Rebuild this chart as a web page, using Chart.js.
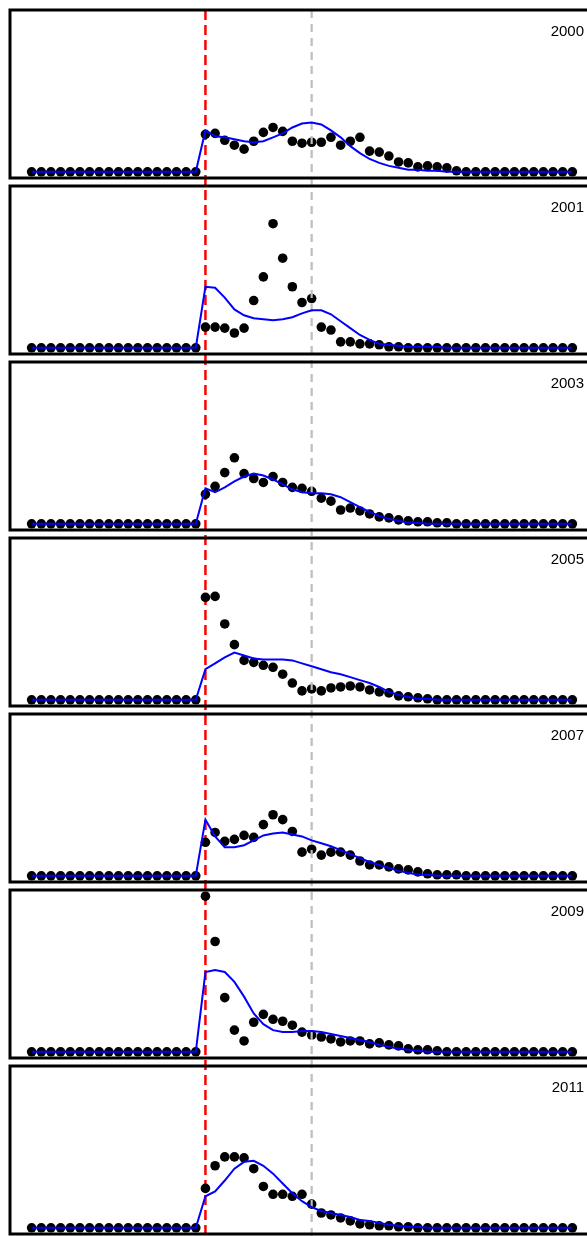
<!DOCTYPE html>
<html>
<head>
<meta charset="utf-8">
<script src="https://cdn.jsdelivr.net/npm/chart.js@4.4.1/dist/chart.umd.min.js"></script>
<style>
  html, body { margin: 0; padding: 0; background: #fff; overflow: hidden; }
  #panels { position: relative; width: 587px; height: 1236px; overflow: hidden; }
  #panels canvas { position: absolute; left: 0; }
</style>
</head>
<body>
<div id="panels"></div>
<script>
// Weekly share per season: observed values (dots) and smoothed fit (blue line)
const weeks = [1, 2, 3, 4, 5, 6, 7, 8, 9, 10, 11, 12, 13, 14, 15, 16, 17, 18, 19, 20,
  21, 22, 23, 24, 25, 26, 27, 28, 29, 30, 31, 32, 33, 34, 35, 36, 37, 38, 39, 40,
  41, 42, 43, 44, 45, 46, 47, 48, 49, 50, 51, 52, 53, 54, 55, 56, 57];

const seasons = ['2000', '2001', '2003', '2005', '2007', '2009', '2011'];

const dots2000 = [0, 0, 0, 0, 0, 0, 0, 0, 0, 0, 0, 0, 0, 0, 0, 0, 0, 0,
  3.8, 3.9, 3.2, 2.7, 2.3, 3.1, 4.0, 4.5, 4.1, 3.1, 2.9, 3.0, 3.0, 3.5, 2.7, 3.1, 3.5, 2.1, 2.0, 1.6, 1.0, 0.9, 0.5, 0.6, 0.5, 0.4, 0.1,
  0, 0, 0, 0, 0, 0, 0, 0, 0, 0, 0, 0];
const fit2000 = [0, 0, 0, 0, 0, 0, 0, 0, 0, 0, 0, 0, 0, 0, 0, 0, 0, 0,
  4.2, 3.6, 3.5, 3.3, 3.1, 3.0, 3.1, 3.5, 3.9, 4.5, 4.9, 5.0, 4.8, 4.2, 3.5, 2.6, 1.9, 1.3, 0.9, 0.6, 0.4, 0.2, 0.2, 0.1, 0.1,
  0, 0, 0, 0, 0, 0, 0, 0, 0, 0, 0, 0, 0, 0];

const dots2001 = [0, 0, 0, 0, 0, 0, 0, 0, 0, 0, 0, 0, 0, 0, 0, 0, 0, 0,
  2.1, 2.1, 2.0, 1.5, 2.0, 4.8, 7.2, 12.6, 9.1, 6.2, 4.6, 5.0, 2.1, 1.8, 0.6, 0.6, 0.4, 0.4, 0.3, 0.1, 0.1,
  0, 0, 0, 0, 0, 0, 0, 0, 0, 0, 0, 0, 0, 0, 0, 0, 0, 0];
const fit2001 = [0, 0, 0, 0, 0, 0, 0, 0, 0, 0, 0, 0, 0, 0, 0, 0, 0, 0,
  6.2, 6.1, 5.1, 3.9, 3.3, 3.0, 2.9, 2.8, 2.9, 3.1, 3.5, 3.8, 3.8, 3.4, 2.7, 2.0, 1.3, 0.8, 0.4, 0.3, 0.2, 0.1, 0.1, 0.1, 0.1,
  0, 0, 0, 0, 0, 0, 0, 0, 0, 0, 0, 0, 0, 0];

const dots2003 = [0, 0, 0, 0, 0, 0, 0, 0, 0, 0, 0, 0, 0, 0, 0, 0, 0, 0,
  3.0, 3.8, 5.2, 6.7, 5.1, 4.6, 4.2, 4.8, 4.2, 3.7, 3.6, 3.3, 2.6, 2.3, 1.4, 1.6, 1.3, 1.0, 0.7, 0.6, 0.4, 0.3, 0.2, 0.2, 0.1, 0.1,
  0, 0, 0, 0, 0, 0, 0, 0, 0, 0, 0, 0, 0];
const fit2003 = [0, 0, 0, 0, 0, 0, 0, 0, 0, 0, 0, 0, 0, 0, 0, 0, 0, 0,
  3.6, 3.2, 3.7, 4.3, 4.8, 5.1, 4.9, 4.5, 4.0, 3.5, 3.2, 3.1, 3.1, 3.0, 2.7, 2.2, 1.7, 1.2, 0.8, 0.5, 0.3, 0.1, 0.1,
  0, 0, 0, 0, 0, 0, 0, 0, 0, 0, 0, 0, 0, 0, 0, 0];

const dots2005 = [0, 0, 0, 0, 0, 0, 0, 0, 0, 0, 0, 0, 0, 0, 0, 0, 0, 0,
  10.4, 10.5, 7.7, 5.6, 4.0, 3.8, 3.5, 3.3, 2.6, 1.7, 0.9, 1.1, 0.9, 1.2, 1.3, 1.4, 1.3, 1.0, 0.8, 0.7, 0.4, 0.3, 0.2, 0.1,
  0, 0, 0, 0, 0, 0, 0, 0, 0, 0, 0, 0, 0, 0, 0];
const fit2005 = [0, 0, 0, 0, 0, 0, 0, 0, 0, 0, 0, 0, 0, 0, 0, 0, 0, 0,
  3.1, 3.7, 4.3, 4.8, 4.5, 4.2, 4.1, 4.1, 4.1, 4.0, 3.7, 3.4, 3.1, 2.8, 2.6, 2.3, 2.0, 1.7, 1.3, 0.8, 0.5, 0.3, 0.1, 0.1,
  0, 0, 0, 0, 0, 0, 0, 0, 0, 0, 0, 0, 0, 0, 0];

const dots2007 = [0, 0, 0, 0, 0, 0, 0, 0, 0, 0, 0, 0, 0, 0, 0, 0, 0, 0,
  3.4, 4.4, 3.5, 3.7, 4.1, 3.9, 5.2, 6.2, 5.7, 4.5, 2.4, 2.7, 2.1, 2.4, 2.4, 2.1, 1.5, 1.1, 1.1, 0.9, 0.7, 0.6, 0.4, 0.2, 0.1, 0.1, 0.1,
  0, 0, 0, 0, 0, 0, 0, 0, 0, 0, 0, 0];
const fit2007 = [0, 0, 0, 0, 0, 0, 0, 0, 0, 0, 0, 0, 0, 0, 0, 0, 0, 0,
  5.7, 4.0, 2.9, 2.9, 3.1, 3.6, 4.1, 4.3, 4.4, 4.2, 4.0, 3.6, 3.3, 3.0, 2.6, 2.2, 1.8, 1.4, 1.1, 0.8, 0.5, 0.3, 0.1, 0.1,
  0, 0, 0, 0, 0, 0, 0, 0, 0, 0, 0, 0, 0, 0, 0];

const dots2009 = [0, 0, 0, 0, 0, 0, 0, 0, 0, 0, 0, 0, 0, 0, 0, 0, 0, 0,
  15.8, 11.2, 5.5, 2.2, 1.1, 3.0, 3.8, 3.3, 3.1, 2.7, 2.0, 1.7, 1.5, 1.3, 1.0, 1.1, 1.1, 0.8, 0.9, 0.7, 0.6, 0.3, 0.2, 0.2, 0.1,
  0, 0, 0, 0, 0, 0, 0, 0, 0, 0, 0, 0, 0, 0];
const fit2009 = [0, 0, 0, 0, 0, 0, 0, 0, 0, 0, 0, 0, 0, 0, 0, 0, 0, 0,
  8.1, 8.3, 8.1, 7.1, 5.6, 3.9, 2.8, 2.2, 2.0, 2.0, 2.1, 2.1, 2.0, 1.8, 1.6, 1.4, 1.2, 1.0, 0.7, 0.5, 0.3, 0.2, 0.1,
  0, 0, 0, 0, 0, 0, 0, 0, 0, 0, 0, 0, 0, 0, 0, 0];

const dots2011 = [0, 0, 0, 0, 0, 0, 0, 0, 0, 0, 0, 0, 0, 0, 0, 0, 0, 0,
  4.0, 6.3, 7.2, 7.2, 7.1, 6.0, 4.2, 3.4, 3.4, 3.2, 3.4, 2.4, 1.5, 1.3, 1.0, 0.7, 0.4, 0.3, 0.2, 0.2, 0.1, 0.1,
  0, 0, 0, 0, 0, 0, 0, 0, 0, 0, 0, 0, 0, 0, 0, 0, 0];
const fit2011 = [0, 0, 0, 0, 0, 0, 0, 0, 0, 0, 0, 0, 0, 0, 0, 0, 0, 0,
  3.2, 3.7, 4.8, 6.0, 6.7, 6.8, 6.3, 5.5, 4.5, 3.5, 2.7, 2.1, 1.7, 1.5, 1.3, 1.1, 0.8, 0.7, 0.5, 0.3, 0.2, 0.1, 0.1,
  0, 0, 0, 0, 0, 0, 0, 0, 0, 0, 0, 0, 0, 0, 0, 0];

const observed = [dots2000, dots2001, dots2003, dots2005, dots2007, dots2009, dots2011];
const fitted   = [fit2000, fit2001, fit2003, fit2005, fit2007, fit2009, fit2011];

const START_WEEK = 19;   // red marker
const MID_WEEK = 30;     // grey marker

// every panel shares one y range, padded 4% like base R
const yTop = Math.max.apply(null, observed.map(function (s) { return Math.max.apply(null, s); }));
const xPad = (weeks[weeks.length - 1] - weeks[0]) * 0.04;

const PANEL_STEP = 176;
const CANVAS_W = 596, CANVAS_H = 176;
const LINE_START = 10;   // page y where the marker lines begin

const holder = document.getElementById('panels');

function toPoints(values) {
  return weeks.map(function (w, i) { return { x: w, y: values[i] }; });
}

seasons.forEach(function (label, k) {
  const pageTop = k * PANEL_STEP + 4;
  const canvas = document.createElement('canvas');
  canvas.width = CANVAS_W;
  canvas.height = CANVAS_H;
  canvas.style.top = pageTop + 'px';
  holder.appendChild(canvas);

  const startY = Math.max(0, LINE_START - pageTop);

  // dashed marker running through the panel and the gap below it
  function vline(chart, week, color, width, dash) {
    const ctx = chart.ctx;
    const x = chart.scales.x.getPixelForValue(week);
    ctx.save();
    ctx.strokeStyle = color;
    ctx.lineWidth = width;
    ctx.setLineDash(dash);
    ctx.lineDashOffset = (pageTop + startY - LINE_START) % (dash[0] + dash[1]);
    ctx.beginPath();
    ctx.moveTo(x, startY);
    ctx.lineTo(x, chart.height);
    ctx.stroke();
    ctx.restore();
  }

  const panelDecor = {
    id: 'panelDecor',
    beforeDatasetsDraw: function (chart) {
      vline(chart, START_WEEK, '#ff0000', 2.5, [10, 5]);
    },
    afterDatasetDraw: function (chart, args) {
      if (args.index === 1) vline(chart, MID_WEEK, '#bebebe', 2.2, [8, 6]);
    },
    afterDraw: function (chart) {
      const a = chart.chartArea, ctx = chart.ctx;
      ctx.save();
      ctx.strokeStyle = '#000';
      ctx.lineWidth = 3;
      ctx.strokeRect(a.left, a.top, a.right - a.left, a.bottom - a.top);
      ctx.fillStyle = '#000';
      ctx.font = '15px "Liberation Sans", Arial, sans-serif';
      ctx.textAlign = 'right';
      ctx.textBaseline = 'alphabetic';
      ctx.fillText(label, 584, a.top + 26);
      ctx.restore();
    }
  };

  new Chart(canvas, {
    type: 'line',
    data: {
      datasets: [
        {
          data: toPoints(fitted[k]),
          borderColor: '#0000ff',
          borderWidth: 2,
          pointRadius: 0,
          tension: 0,
          fill: false
        },
        {
          data: toPoints(observed[k]),
          showLine: false,
          pointRadius: 4.8,
          pointBackgroundColor: '#000',
          pointBorderWidth: 0
        }
      ]
    },
    options: {
      responsive: false,
      devicePixelRatio: 1,
      animation: false,
      events: [],
      layout: { autoPadding: false, padding: { left: 10, right: 2, top: 6, bottom: 2 } },
      plugins: { legend: { display: false }, tooltip: { enabled: false } },
      scales: {
        x: { type: 'linear', display: false, min: weeks[0] - xPad, max: weeks[weeks.length - 1] + xPad },
        y: { display: false, min: -0.04 * yTop, max: 1.04 * yTop }
      }
    },
    plugins: [panelDecor]
  });
});
</script>
</body>
</html>
